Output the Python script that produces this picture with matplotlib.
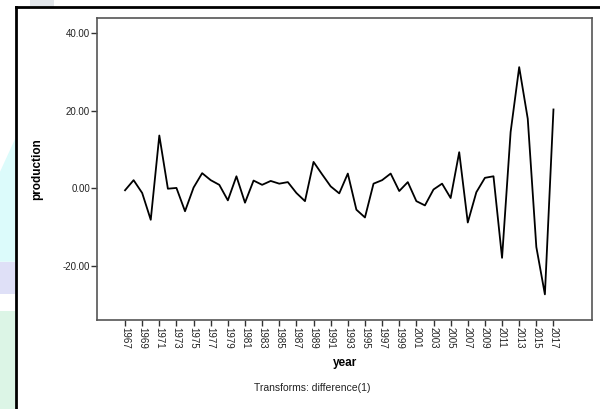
import matplotlib.pyplot as plt
from matplotlib.patches import Polygon
from matplotlib.lines import Line2D

plt.rcParams['font.family'] = ['Liberation Sans', 'DejaVu Sans']

# First difference of production, 1967-2017
years = list(range(1967, 2018))
diff_production = [
    -0.5, 2.1, -1.2, -8.1, 13.6, -0.1, 0.1, -5.9, 0.2, 3.9,
    2.1, 0.9, -3.1, 3.1, -3.7, 2.0, 0.9, 1.9, 1.2, 1.6,
    -1.2, -3.3, 6.8, 3.6, 0.5, -1.3, 3.8, -5.5, -7.5, 1.2,
    2.1, 3.8, -0.7, 1.6, -3.3, -4.4, -0.3, 1.2, -2.5, 9.3,
    -8.8, -1.0, 2.7, 3.1, -17.9, 14.5, 31.2, 17.9, -15.1, -27.3,
    20.3,
]
x_ticks = list(range(1967, 2018, 2))
y_ticks = [-20, 0, 20, 40]

fig = plt.figure(figsize=(6.0, 4.09), dpi=100)
fig.patch.set_facecolor('white')

# faint shapes behind the page frame
bg = [
    ([(0, 0.36), (0.025, 0.36), (0.025, 0.66), (0, 0.58)], '#dcfbfb'),
    ([(0, 0.28), (0.025, 0.28), (0.025, 0.36), (0, 0.36)], '#dfe0f7'),
    ([(0, 0.0), (0.025, 0.0), (0.025, 0.24), (0, 0.24)], '#dcf5e6'),
    ([(0.05, 0.983), (0.09, 0.983), (0.09, 1.0), (0.05, 1.0)], '#e2e6ea'),
]
for pts, col in bg:
    fig.patches.append(Polygon(pts, closed=True, transform=fig.transFigure,
                               facecolor=col, edgecolor='none', zorder=0))

# page frame: left and top black rules
fig.add_artist(Line2D([0.026, 0.026], [0.0, 0.983], transform=fig.transFigure,
                      color='black', linewidth=2))
fig.add_artist(Line2D([0.026, 1.0], [0.983, 0.983], transform=fig.transFigure,
                      color='black', linewidth=2))

ax = fig.add_axes([0.1617, 0.2176, 0.825, 0.7384])
ax.plot(years, diff_production, color='black', linewidth=1.3)

ax.set_xlim(1963.73, 2021.5)
ax.set_ylim(-33.9, 43.85)

ax.set_yticks(y_ticks)
ax.set_yticklabels([f'{v:.2f}' for v in y_ticks], fontsize=7)
ax.set_xticks(x_ticks)
ax.set_xticklabels([str(y) for y in x_ticks], rotation=270, fontsize=7)

ax.tick_params(axis='both', direction='out', length=4, width=1, color='#333333',
               pad=1, labelcolor='#222222')

for s in ax.spines.values():
    s.set_color('#555555')
    s.set_linewidth(1.2)

ax.set_ylabel('production', fontsize=8.5, fontweight='bold', labelpad=14)
ax.set_xlabel('year', fontsize=8.5, fontweight='bold', labelpad=6)

fig.text(0.52, 0.052, 'Transforms: difference(1)', ha='center', va='center',
         fontsize=7.5, color='#222222')

fig.savefig('out.png', dpi=100)
